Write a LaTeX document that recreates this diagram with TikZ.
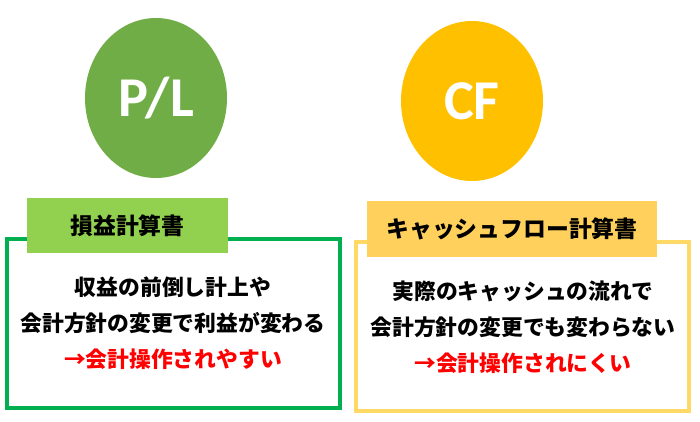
\documentclass[tikz,border=0pt]{standalone}
\usepackage{fontspec}
\usepackage{tikz}
\usetikzlibrary{positioning,shapes.geometric}
\newfontfamily\jpfont{Noto Sans CJK JP}
\newfontfamily\capfont{Carlito}
\definecolor{PLgreen}{HTML}{70AD47}
\definecolor{PLframe}{HTML}{00B050}
\definecolor{PLtag}{HTML}{92D050}
\definecolor{CFgold}{HTML}{FFC000}
\definecolor{CFframe}{HTML}{FFD966}
\definecolor{CFtag}{HTML}{FFD15C}
\definecolor{WarnRed}{HTML}{FF0000}

\begin{document}
\begin{tikzpicture}[x=0.03cm,y=-0.03cm,
    badge/.style={ellipse, inner sep=0pt, minimum width=4.26cm, minimum height=4.8cm,
        text=white, font=\capfont\bfseries\fontsize{48}{48}\selectfont},
    frame/.style={draw, line width=3.4pt, minimum width=9.99cm, minimum height=5.07cm, inner sep=0pt},
    tag/.style={minimum height=1.66cm, inner sep=0pt, font=\jpfont\bfseries\fontsize{19.5}{19.5}\selectfont},
    body/.style={align=center, font=\jpfont\bfseries\fontsize{18.6}{30.8}\selectfont}]
        \useasboundingbox (0,0) rectangle (700,422);

        % circles
        \node[badge, fill=PLgreen] (plbadge) at (156,98) {P/L};
        \node[badge, fill=CFgold] (cfbadge) at (472,101) {CF};

        % frames and tags
        \node[frame, draw=PLframe] (plframe) at (173.5,323.5) {};
        \node[frame, draw=CFframe] (cfframe) at (522.5,326.5) {};
        \node[tag, fill=PLtag, minimum width=6.03cm] (pltag) at (127.5,225.5) {損益計算書};
        \node[tag, fill=CFtag, minimum width=8.7cm] (cftag) at (512,229) {キャッシュフロー計算書};

        % explanations
        \node[body] (pltext) at (173,323) {収益の前倒し計上や\\会計方針の変更で利益が変わる\\\textcolor{WarnRed}{→会計操作されやすい}};
        \node[body] (cftext) at (523,327) {実際のキャッシュの流れで\\会計方針の変更でも変わらない\\\textcolor{WarnRed}{→会計操作されにくい}};
    \end{tikzpicture}
\end{document}
